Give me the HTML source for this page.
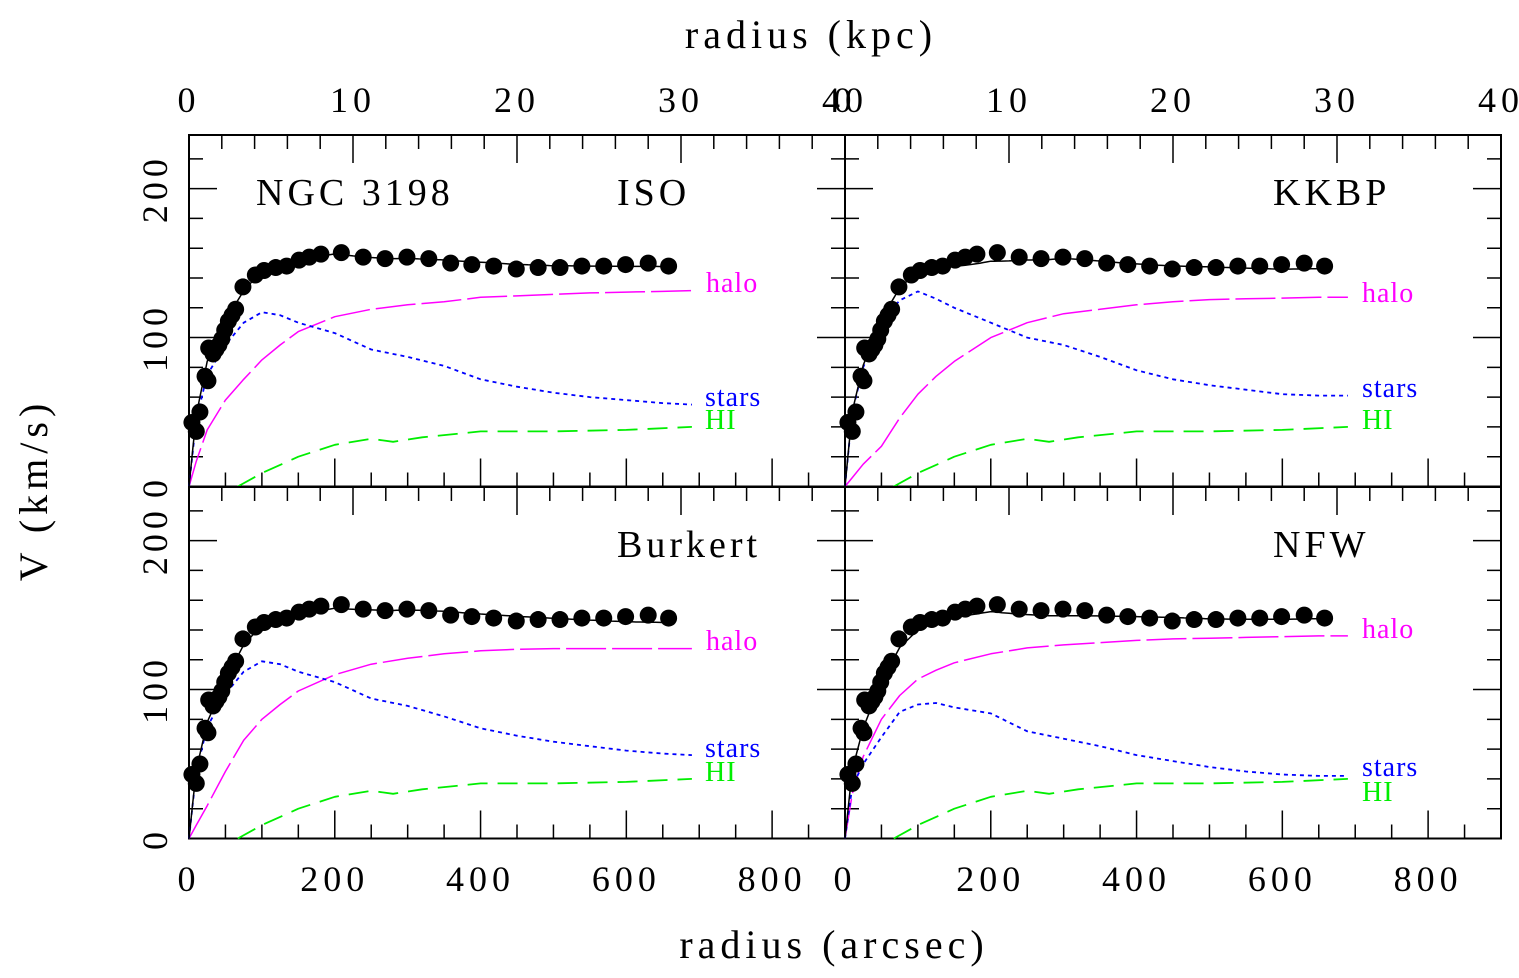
<!DOCTYPE html>
<html><head><meta charset="utf-8"><style>
html,body{margin:0;padding:0;background:#fff;}
svg{display:block;font-family:"Liberation Serif",serif;}
</style></head><body>
<svg id="chart" width="1519" height="978" viewBox="0 0 1519 978" xmlns="http://www.w3.org/2000/svg">
<text x="811" y="48" font-size="40" text-anchor="middle" letter-spacing="5">radius (kpc)</text>
<text x="834" y="958" font-size="40" text-anchor="middle" letter-spacing="5">radius (arcsec)</text>
<text transform="translate(47,490) rotate(-90)" font-size="40" text-anchor="middle" letter-spacing="5">V (km/s)</text>
</svg>
<script>
const obsR=[4,10,15,22,26,27,33,37,41,45,49,54,59,64,74,91,103,119,134,151,165,181,209,239,269,299,329,359,388,418,449,479,509,539,569,599,630,658];
const obsV=[43,37,50,74,71,93,89,92,95,99,105,111,115,119,134,142,145,147,148,152,154,156,157,154,153,154,153,150,149,148,146,147,147,148,148,149,150,148];
const modelR=[0,10,25,50,75,100,125,150,200,250,300,350,400,450,500,550,600,650,690];
const isoHalo=[0,17,38,58,72,85,95,104,114,119,122,124,127,128,129,130,130.5,131,131.5];
const isoStars=[0,45,75,95,110,117,115,110,103,92,87,81,72,67,63,60,58,56,55];
const kkbpHalo=[0,6,15,27,46,62,74,84,100,110,116,119,122,124,125.5,126,126.5,127,127];
const kkbpStars=[0,50,80,110,125,131,126,120,110,100,95,87,78,72,68,65,62,61,61];
const burkHalo=[0,9,22,45,66,80,90,99,110,117,121,124,126,127,127.5,127.5,127.5,127.5,127.5];
const burkStars=[0,45,75,97,112,119,117,112,105,94,89,82,74,69,65,62,59,57,56];
const nfwHalo=[0,30,55,80,96,107,113,118,124,128,130,131.5,133,134,134.5,135,135.5,136,136];
const nfwStars=[0,35,50,68,85,90,91,88,84,72,67,62,56,52,48,45,43,42,42];
const hiR=[67,100,150,200,250,280,320,400,450,500,600,690];
const hiV=[0,9,20,28,32,30,33,37,37,37,38,40];
const arcTicks=["0","200","400","600","800"];
const kpcTicks=["0","10","20","30","40"];
const vTicks=["0","100","200"];

const NS="http://www.w3.org/2000/svg";
const svg=document.getElementById('chart');
function mk(tag,attrs,parent){const e=document.createElementNS(NS,tag);for(const k in attrs)e.setAttribute(k,attrs[k]);(parent||svg).appendChild(e);return e;}
const PW=656,PH=351.5,XMAX=900,YMAX=236,KPCMAX=40;
function interp(xs,ys,x){if(x<xs[0]||x>xs[xs.length-1])return null;for(let i=1;i<xs.length;i++){if(x<=xs[i]){const t=(x-xs[i-1])/(xs[i]-xs[i-1]);return ys[i-1]+t*(ys[i]-ys[i-1]);}}return ys[ys.length-1];}

const panels=[
 {name:"iso",label:"ISO",x0:189,y0:135,halo:isoHalo,stars:isoStars,top:true,bottom:false,lab:[706,283,705,397,705,420]},
 {name:"kkbp",label:"KKBP",x0:845,y0:135,halo:kkbpHalo,stars:kkbpStars,top:true,bottom:false,lab:[1362,293,1362,388,1362,420]},
 {name:"burkert",label:"Burkert",x0:189,y0:487,halo:burkHalo,stars:burkStars,top:false,bottom:true,lab:[706,641,705,748,705,772]},
 {name:"nfw",label:"NFW",x0:845,y0:487,halo:nfwHalo,stars:nfwStars,top:false,bottom:true,lab:[1362,629,1362,767,1362,792]}
];
panels.forEach(p=>{
 const g=mk('g',{});
 
 
 const sx=r=>p.x0+r/XMAX*PW, sy=v=>p.y0+PH-v/YMAX*PH, sk=k=>p.x0+k/KPCMAX*PW;
 const frame=mk('rect',{x:p.x0,y:p.y0,width:PW,height:PH,fill:'none',stroke:'#000','stroke-width':2},g);
 
 
 let d='';
 for(let a=0;a<=XMAX;a+=50){const L=a%200===0?28:14;d+=`M${sx(a)},${p.y0+PH}v${-L}`;}
 for(let k=0;k<=KPCMAX;k+=2){const L=k%10===0?28:14;d+=`M${sk(k)},${p.y0}v${L}`;}
 for(let v=0;v<=YMAX;v+=20){const L=v%100===0?28:14;d+=`M${p.x0},${sy(v)}h${L}M${p.x0+PW},${sy(v)}h${-L}`;}
 const ticks=mk('path',{d:d,stroke:'#000','stroke-width':1.5,fill:'none'},g);
 
 
 if(p.bottom){arcTicks.forEach(t=>{const e=mk('text',{x:sx(+t),y:891,'font-size':36,'text-anchor':'middle','letter-spacing':5},g);e.textContent=t;
  
  });}
 if(p.top){kpcTicks.forEach(t=>{const e=mk('text',{x:sk(+t),y:112,'font-size':36,'text-anchor':'middle','letter-spacing':5},g);e.textContent=t;
  
  });}
 if(p.x0<300){vTicks.forEach(t=>{const e=mk('text',{transform:`translate(167,${sy(+t)}) rotate(-90)`,'font-size':36,'text-anchor':'middle','letter-spacing':5},g);e.textContent=t;
  
  });}
 const poly=(xs,ys)=>xs.map((r,i)=>`${sx(r).toFixed(1)},${sy(ys[i]).toFixed(1)}`).join(' ');
 const halo=mk('polyline',{points:poly(modelR,p.halo),fill:'none',stroke:'#ff00ff','stroke-width':1.5,'stroke-dasharray':'40 6','stroke-linejoin':'round'},g);
 
 
 const stars=mk('polyline',{points:poly(modelR,p.stars),fill:'none',stroke:'#0000ff','stroke-width':1.8,'stroke-dasharray':'4 4','stroke-linejoin':'round'},g);
 
 
 const hi=mk('polyline',{points:poly(hiR,hiV),fill:'none',stroke:'#00ee00','stroke-width':1.8,'stroke-dasharray':'20 10','stroke-linejoin':'round'},g);
 
 
 const tot=[];
 for(let r=0;r<=665;r+=5){const h=interp(modelR,p.halo,r)||0,s=interp(modelR,p.stars,r)||0,gs=interp(hiR,hiV,r)||0;tot.push(`${sx(r).toFixed(1)},${sy(Math.sqrt(h*h+s*s+gs*gs)).toFixed(1)}`);}
 const total=mk('polyline',{points:tot.join(' '),fill:'none',stroke:'#000','stroke-width':1.5},g);
 
 
 obsR.forEach((r,i)=>{const c=mk('circle',{cx:sx(r),cy:sy(obsV[i]),r:8.5,fill:'#000'},g);
  
  });
 const labs=[['halo','#ff00ff'],['stars','#0000ff'],['HI','#00ee00']];
 labs.forEach((l,i)=>{const e=mk('text',{x:p.lab[i*2],y:p.lab[i*2+1]+9,'font-size':28,fill:l[1],'letter-spacing':1},g);e.textContent=l[0];
  
  });
 const nm=mk('text',{x:p.x0+428,y:p.y0+70,'font-size':38,'letter-spacing':4},g);nm.textContent=p.label;
 
 
 if(p.name==='iso'){const t=mk('text',{x:256,y:205,'font-size':38,'letter-spacing':4},g);t.textContent='NGC 3198';
  
  }
});
</script>
</body></html>
